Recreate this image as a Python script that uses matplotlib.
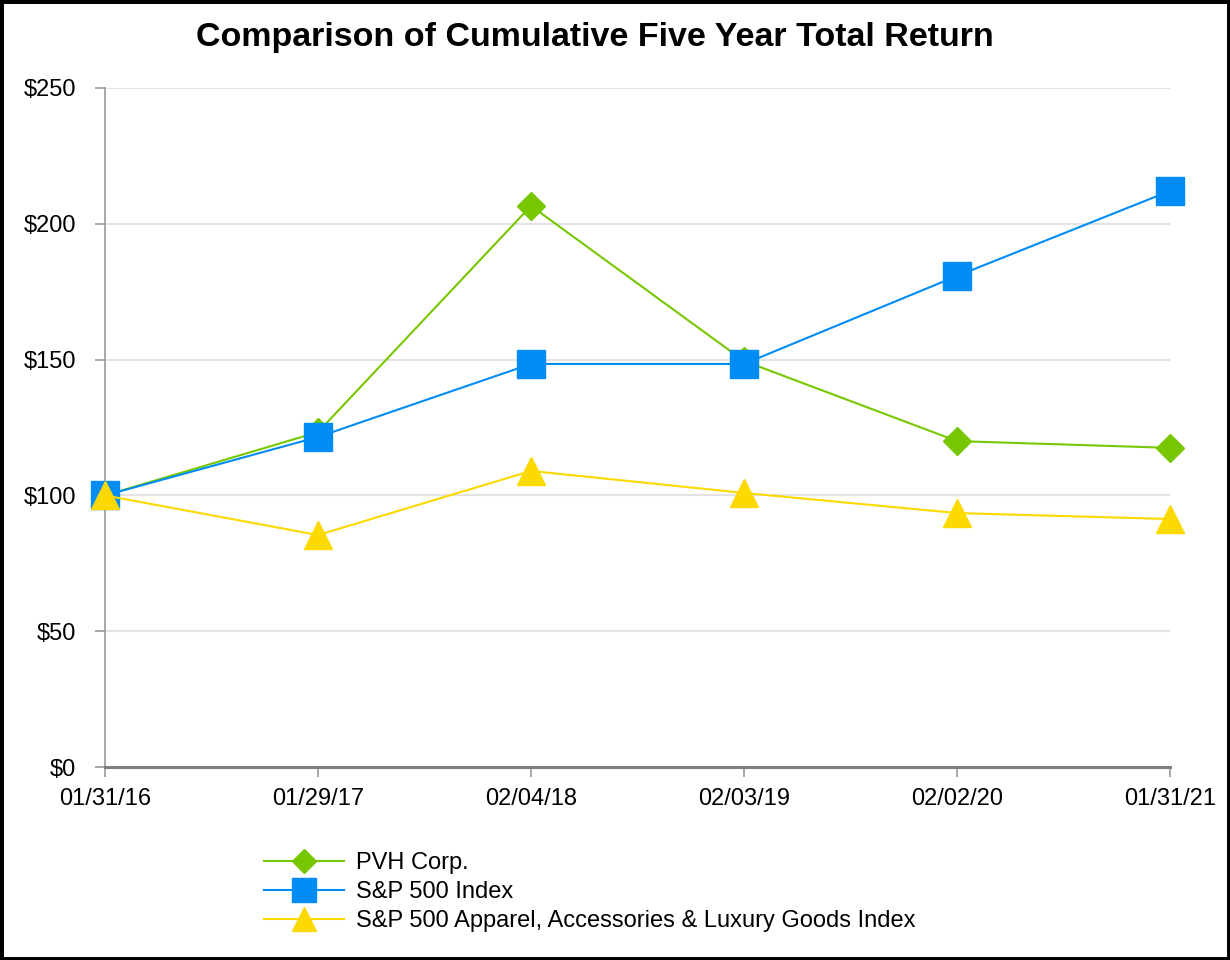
import matplotlib
matplotlib.use("Agg")
import matplotlib.pyplot as plt
from matplotlib.patches import Rectangle

dates = ["01/31/16", "01/29/17", "02/04/18", "02/03/19", "02/02/20", "01/31/21"]
pvh = [100, 123.3, 206.6, 149.5, 120.0, 117.5]
sp500 = [100, 121.5, 148.4, 148.4, 180.8, 212.1]
apparel = [100, 85.4, 109.0, 100.9, 93.5, 91.3]
yticks = [0, 50, 100, 150, 200, 250]
ytick_labels = ["$0", "$50", "$100", "$150", "$200", "$250"]
series_names = ["PVH Corp.", "S&P 500 Index",
                "S&P 500 Apparel, Accessories & Luxury Goods Index"]

plt.rcParams['font.family'] = ['Liberation Sans', 'DejaVu Sans']

fig = plt.figure(figsize=(12.3, 9.6), dpi=100)
fig.patches.append(Rectangle((0, 0), 1, 1, transform=fig.transFigure,
                             fill=False, edgecolor='black', linewidth=5, zorder=10))
ax = fig.add_axes([105/1230, 1 - 767/960, (1170-105)/1230, (767-88)/960])

x = list(range(len(dates)))
ax.plot(x, pvh, color='#77C700', lw=1.5, marker='D', markersize=14,
        label=series_names[0], clip_on=False, zorder=3)
ax.plot(x, sp500, color='#008CF5', lw=1.5, marker='s', markersize=20,
        label=series_names[1], clip_on=False, zorder=4)
ax.plot(x, apparel, color='#FCD900', lw=1.5, marker='^', markersize=20,
        label=series_names[2], clip_on=False, zorder=5)

ax.set_xlim(0, len(dates) - 1)
ax.set_ylim(0, 250)
ax.set_xticks(x)
ax.set_xticklabels(dates, fontsize=17)
ax.set_yticks(yticks)
ax.set_yticklabels(ytick_labels, fontsize=17)
ax.grid(axis='y', color='#E3E3E3', lw=1.5)
ax.set_axisbelow(True)
for s in ['top', 'right']:
    ax.spines[s].set_visible(False)
ax.spines['left'].set_color('#999999')
ax.spines['left'].set_linewidth(1.2)
ax.spines['bottom'].set_color('#808080')
ax.spines['bottom'].set_linewidth(2.2)
ax.tick_params(axis='x', length=7, width=1.2, color='#999999', pad=8)
ax.tick_params(axis='y', length=7, width=1.2, color='#999999', pad=14)

fig.text(0.484, 1 - 46/960, "Comparison of Cumulative Five Year Total Return",
         ha='center', va='baseline', fontsize=24.5, fontweight='bold')

leg = fig.legend(loc='upper left', bbox_to_anchor=(264/1230, 1 - 852/960),
                 frameon=False, fontsize=17, handlelength=3.4, labelspacing=0.3,
                 handletextpad=0.5, borderpad=0, borderaxespad=0,
                 markerscale=0.85)
fig.savefig("out.png", dpi=100)
